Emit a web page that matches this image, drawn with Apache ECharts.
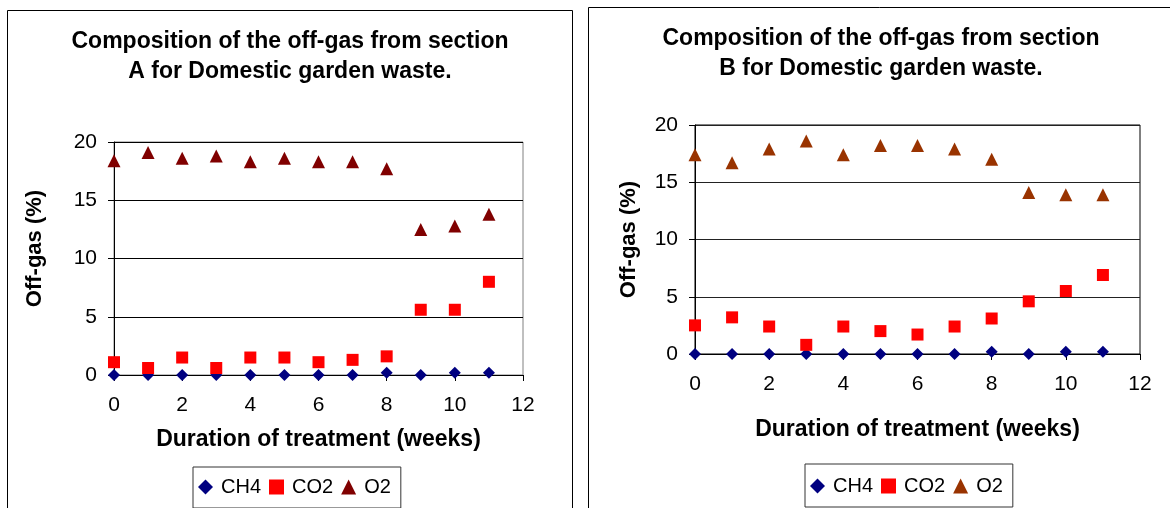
<!DOCTYPE html>
<html>
<head>
<meta charset="utf-8">
<script src="https://cdn.jsdelivr.net/npm/echarts@6/dist/echarts.min.js"></script>
<style>
  html, body { margin: 0; padding: 0; background: #ffffff; }
  #chart { width: 1170px; height: 508px; }
</style>
</head>
<body>
<div id="chart"></div>
<script>
// Weekly off-gas composition (%) for the two composting sections
const weeks = [0, 1, 2, 3, 4, 5, 6, 7, 8, 9, 10, 11];

const ch4A = [0, 0, 0, 0, 0, 0, 0, 0, 0.2, 0, 0.2, 0.2];
const co2A = [1.1, 0.6, 1.5, 0.6, 1.5, 1.5, 1.1, 1.3, 1.6, 5.6, 5.6, 8.0];
const o2A  = [18.4, 19.1, 18.6, 18.8, 18.3, 18.6, 18.3, 18.3, 17.7, 12.5, 12.8, 13.8];

const ch4B = [0, 0, 0, 0, 0, 0, 0, 0, 0.2, 0, 0.2, 0.2];
const co2B = [2.5, 3.2, 2.4, 0.8, 2.4, 2.0, 1.7, 2.4, 3.1, 4.6, 5.5, 6.9];
const o2B  = [17.4, 16.7, 17.9, 18.6, 17.4, 18.2, 18.2, 17.9, 17.0, 14.1, 13.9, 13.9];

const gasLabels = ['CH4', 'CO2', 'O2'];
const titleA = 'Composition of the off-gas from section\nA for Domestic garden waste.';
const titleB = 'Composition of the off-gas from section\nB for Domestic garden waste.';
const xName = 'Duration of treatment (weeks)';
const yName = 'Off-gas (%)';

const FONT = '"Liberation Sans", Arial, sans-serif';
const pairs = vals => weeks.map((w, i) => [w, vals[i]]);

function xAxisFor(gridIndex, nameGap) {
  return {
    type: 'value', gridIndex, min: 0, max: 12, interval: 2,
    name: xName, nameLocation: 'middle', nameGap,
    nameTextStyle: { fontFamily: FONT, fontSize: 23, fontWeight: 'bold', color: '#000' },
    axisLine: { show: true, onZero: false, lineStyle: { color: '#000', width: 1 } },
    axisTick: { show: true, length: 6, lineStyle: { color: '#000' } },
    axisLabel: { fontFamily: FONT, fontSize: 21, color: '#000', margin: 20 },
    splitLine: { show: false }
  };
}

function yAxisFor(gridIndex, nameGap, gridColor, namePad) {
  return {
    type: 'value', gridIndex, min: 0, max: 20, interval: 5,
    name: yName, nameLocation: 'middle', nameGap,
    nameTextStyle: { fontFamily: FONT, fontSize: 22, fontWeight: 'bold', color: '#000', padding: namePad },
    axisLine: { show: true, onZero: false, lineStyle: { color: '#000', width: 1 } },
    axisTick: { show: true, length: 6, lineStyle: { color: '#000' } },
    axisLabel: { fontFamily: FONT, fontSize: 21, color: '#000', margin: 17 },
    splitLine: { show: true, lineStyle: { color: gridColor, width: 1 } }
  };
}

function legendFor(left, top, names, padding) {
  return {
    left, top, orient: 'horizontal',
    itemWidth: 15, itemHeight: 15, itemGap: 8,
    padding, borderColor: '#333', borderWidth: 1,
    selectedMode: false,
    data: names,
    formatter: n => n.split(' ')[0],
    textStyle: { fontFamily: FONT, fontSize: 20, color: '#000', padding: [0, 0, 0, 3] }
  };
}

function scatter(name, idx, vals, symbol, size, color) {
  return {
    type: 'scatter', name, xAxisIndex: idx, yAxisIndex: idx,
    data: pairs(vals), symbol, symbolSize: size,
    itemStyle: { color, opacity: 1 },
    emphasis: { disabled: true }
  };
}

const namesA = gasLabels.map(g => g + ' A');
const namesB = gasLabels.map(g => g + ' B');

const option = {
  backgroundColor: '#ffffff',
  animation: false,
  title: [
    { text: titleA, left: 290, top: 27, textAlign: 'center', padding: 0,
      textStyle: { fontFamily: FONT, fontSize: 23, fontWeight: 'bold', color: '#000', lineHeight: 30 } },
    { text: titleB, left: 881, top: 24, textAlign: 'center', padding: 0,
      textStyle: { fontFamily: FONT, fontSize: 23, fontWeight: 'bold', color: '#000', lineHeight: 30 } }
  ],
  graphic: [
    { type: 'rect', silent: true, z: -10,
      shape: { x: 7.5, y: 10.5, width: 565, height: 540 },
      style: { fill: 'none', stroke: '#000', lineWidth: 1 } },
    { type: 'rect', silent: true, z: -10,
      shape: { x: 588.5, y: 7.5, width: 620, height: 540 },
      style: { fill: 'none', stroke: '#000', lineWidth: 1 } }
  ],
  grid: [
    { left: 114, top: 142, width: 409, height: 233, show: true,
      borderColor: '#808080', borderWidth: 1, backgroundColor: 'transparent' },
    { left: 695, top: 125, width: 445, height: 229, show: true,
      borderColor: '#000', borderWidth: 1, backgroundColor: 'transparent' }
  ],
  xAxis: [xAxisFor(0, 53), xAxisFor(1, 64)],
  yAxis: [yAxisFor(0, 68, '#000', [0, 0, 0, 20]), yAxisFor(1, 55, '#222', 0)],
  legend: [
    legendFor(193, 467, namesA, [10, 10, 11, 5]),
    legendFor(805, 464, namesB, [12, 10, 11, 5])
  ],
  series: [
    scatter(namesA[0], 0, ch4A, 'diamond', 12, '#000080'),
    scatter(namesA[1], 0, co2A, 'rect', 12, '#ff0000'),
    scatter(namesA[2], 0, o2A, 'triangle', 13, '#800000'),
    scatter(namesB[0], 1, ch4B, 'diamond', 12, '#000080'),
    scatter(namesB[1], 1, co2B, 'rect', 12, '#ff0000'),
    scatter(namesB[2], 1, o2B, 'triangle', 13, '#993300')
  ]
};

const chart = echarts.init(document.getElementById('chart'), null, { renderer: 'canvas' });
chart.setOption(option);
</script>
</body>
</html>
